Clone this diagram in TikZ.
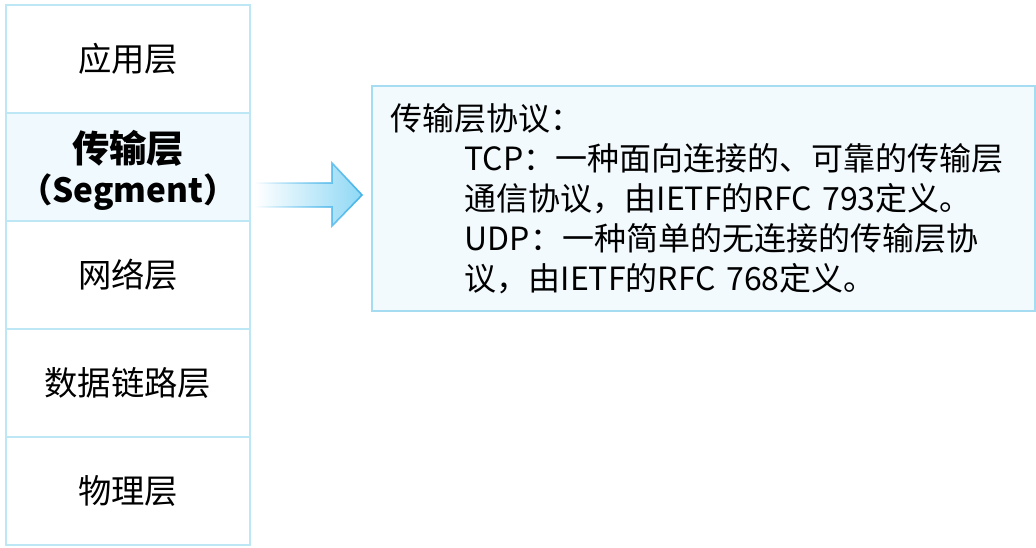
\documentclass[tikz,border=0pt]{standalone}
\usepackage{fontspec}
\setmainfont{Noto Sans CJK SC}
\usetikzlibrary{fadings}

\definecolor{layerline}{HTML}{BEE7F6}
\definecolor{layerhi}{HTML}{F0F9FD}
\definecolor{boxline}{HTML}{A5DCF2}
\definecolor{boxfill}{HTML}{F3FAFE}
\definecolor{arrowfill}{HTML}{8FD8F5}
\definecolor{arrowline}{HTML}{45B3E9}

\tikzfading[name=arrowfade, left color=transparent!100, right color=transparent!0]

\tikzset{
	layer/.style={draw=layerline, line width=1.5pt, minimum width=183pt, minimum height=81pt,
		inner sep=0pt, font=\fontsize{25}{30}\selectfont, align=center},
	protobox/.style={draw=boxline, fill=boxfill, line width=1.5pt, minimum width=497pt,
		minimum height=169pt, inner xsep=12.5pt, text width=470pt, align=left,
		font=\fontsize{24}{30}\selectfont}
}

\begin{document}
\begin{tikzpicture}[x=0.75pt, y=-0.75pt]
	\useasboundingbox (0,0) rectangle (1036,547);
	
	\node[layer] (app) at (128,59) {应用层};
	\node[layer, fill=layerhi, font=\bfseries] (trans) at (128,167) {};
	\node[font=\fontsize{28}{30}\selectfont\bfseries, inner sep=0pt] (transname) at (128,148) {传输层};
	\node[font=\fontsize{25}{30}\selectfont\bfseries, inner sep=0pt] (transunit) at (128,192) {（Segment）};
	\node[layer] (net) at (128,275) {网络层};
	\node[layer] (link) at (128,383) {数据链路层};
	\node[layer] (phy) at (128,491) {物理层};
	
	
	\node[protobox, anchor=north west] (proto) at (371,85) {传输层协议：\\
		\hspace*{56pt}TCP：一种面向连接的、可靠的传输层\\
		\hspace*{56pt}通信协议，由IETF的RFC 793定义。\\
		\hspace*{56pt}UDP：一种简单的无连接的传输层协\\
		\hspace*{56pt}议，由IETF的RFC 768定义。};
	
	
	\shade[left color=white, right color=arrowfill]
		(255,183) -- (332,183) -- (332,163) -- (362,195) -- (332,226) -- (332,207) -- (255,207) -- cycle;
	\draw[arrowline, line width=1.2pt, line join=miter, path fading=arrowfade]
		(255,183) -- (332,183) -- (332,163) -- (362,195) -- (332,226) -- (332,207) -- (255,207) -- cycle;
	
\end{tikzpicture}
\end{document}
